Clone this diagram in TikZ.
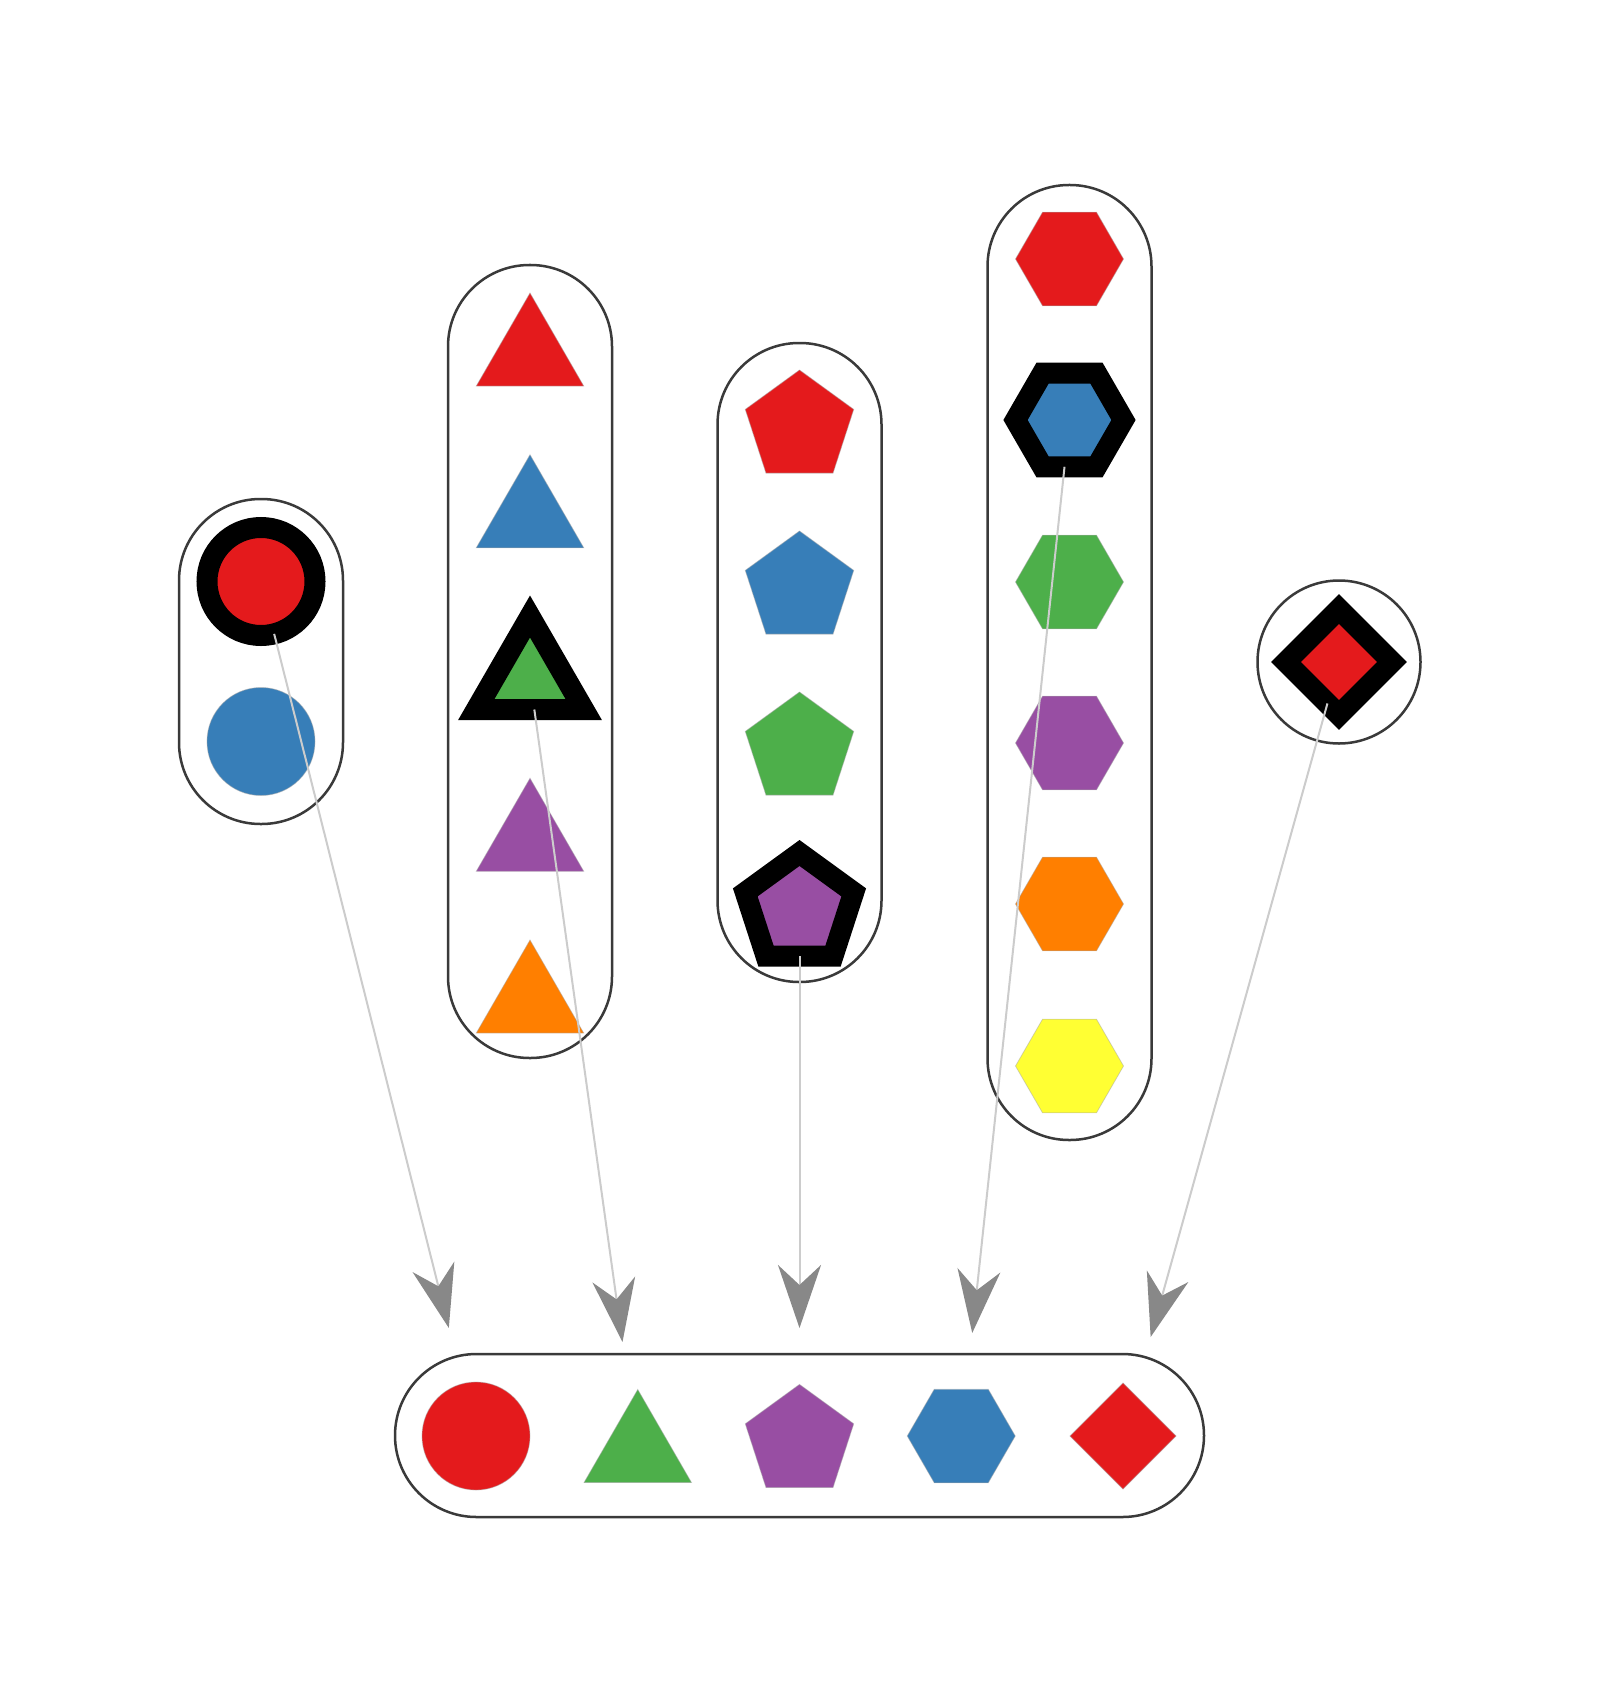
\documentclass[tikz,border=0pt]{standalone}
\usetikzlibrary{shapes.geometric,arrows.meta}
\definecolor{cred}{HTML}{E41A1C}
\definecolor{cblue}{HTML}{377EB8}
\definecolor{cgreen}{HTML}{4DAF4A}
\definecolor{cpurple}{HTML}{984EA3}
\definecolor{corange}{HTML}{FF7F00}
\definecolor{cyellow}{HTML}{FFFF33}
\definecolor{pillgray}{HTML}{3A3A3A}
\definecolor{linkgray}{HTML}{CCCCCC}
\definecolor{tipgray}{HTML}{888888}
\begin{document}
\begin{tikzpicture}[x=1pt,y=-1pt,
  pill/.style={draw=pillgray, line width=2.5pt, fill=white, rounded corners=81.5pt,
    inner sep=0pt, outer sep=0pt, minimum width=164pt},
  base/.style={inner sep=0pt, outer sep=0pt, draw=black!35, draw opacity=0.5, line width=0.8pt},
  circ/.style={base, circle, minimum size=108pt},
  tri/.style={base, regular polygon, regular polygon sides=3, minimum size=124pt},
  pent/.style={base, regular polygon, regular polygon sides=5, minimum size=114pt},
  hexa/.style={base, regular polygon, regular polygon sides=6, minimum size=108pt},
  diam/.style={base, regular polygon, regular polygon sides=4, regular polygon rotate=45, minimum size=106pt},
  sel/.style={draw=black, draw opacity=1, line width=21pt},
  link/.style={draw=linkgray, line width=2pt, -{Stealth[length=63pt,width=43pt,inset=20pt,color=tipgray]}}
]
\useasboundingbox[fill=white] (0,0) rectangle (1600,1704);

% containers
\node[pill, minimum height=325pt] (p1) at (261,661.5) {};
\node[pill, minimum height=793pt] (p2) at (530,661.5) {};
\node[pill, minimum height=639pt] (p3) at (799.5,662.5) {};
\node[pill, minimum height=955pt] (p4) at (1069.5,662.5) {};
\node[draw=pillgray, line width=2.5pt, fill=white, circle, inner sep=0pt, outer sep=0pt, minimum size=163pt] (p5) at (1339,662) {};
\node[pill, minimum width=809pt, minimum height=163pt] (pb) at (799.5,1435.5) {};

% circles
\node[circ, sel, fill=cred] (c1) at (261,581.5) {};
\node[circ, fill=cblue] (c2) at (261,741.5) {};

% triangles
\node[tri, fill=cred] (t1) at (530,355) {};
\node[tri, fill=cblue] (t2) at (530,516.75) {};
\node[tri, sel, fill=cgreen] (t3) at (530,678.5) {};
\node[tri, fill=cpurple] (t4) at (530,840.25) {};
\node[tri, fill=corange] (t5) at (530,1002) {};

% pentagons
\node[pent, fill=cred] (q1) at (799.5,427) {};
\node[pent, fill=cblue] (q2) at (799.5,588) {};
\node[pent, fill=cgreen] (q3) at (799.5,749) {};
\node[pent, sel, fill=cpurple] (q4) at (799.5,910) {};

% hexagons
\node[hexa, fill=cred] (h1) at (1069.5,259) {};
\node[hexa, sel, fill=cblue] (h2) at (1069.5,420) {};
\node[hexa, fill=cgreen] (h3) at (1069.5,582) {};
\node[hexa, fill=cpurple] (h4) at (1069.5,743) {};
\node[hexa, fill=corange] (h5) at (1069.5,904) {};
\node[hexa, fill=cyellow] (h6) at (1069.5,1066) {};

% diamond
\node[diam, sel, fill=cred] (d1) at (1339,662) {};

% result row
\node[circ, fill=cred] (b1) at (476,1436) {};
\node[tri, fill=cgreen] (b2) at (637.75,1451.5) {};
\node[pent, fill=cpurple] (b3) at (799.5,1441.4) {};
\node[hexa, fill=cblue] (b4) at (961.25,1436) {};
\node[diam, fill=cred] (b5) at (1123,1436) {};

% connectors
\draw[link, shorten >=111.4pt] (c1) -- (b1.center);
\draw[link, shorten >=110.6pt] (t3) -- (b2.center);
\draw[link, shorten >=113.4pt] (q4) -- (b3.center);
\draw[link, shorten >=103.6pt] (h2) -- (b4.center);
\draw[link, shorten >=102.8pt] (d1) -- (b5.center);
\end{tikzpicture}
\end{document}
